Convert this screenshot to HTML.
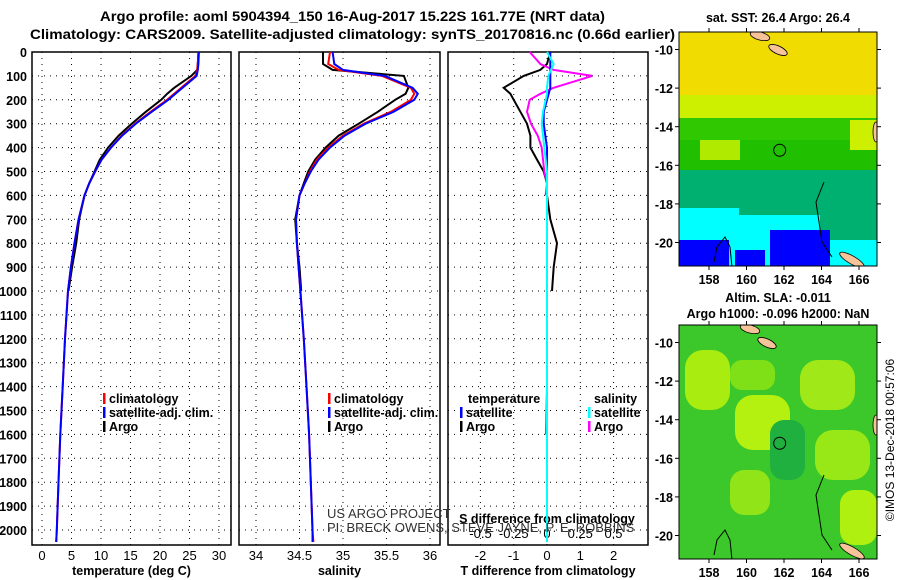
<!DOCTYPE html>
<html><head><meta charset="utf-8"><style>
body{margin:0;background:#fff}
svg{display:block;font-family:"Liberation Sans",sans-serif}
.b{font-weight:bold;font-size:12.5px}
.t{font-weight:bold;font-size:13.5px}
</style></head><body>
<svg id="c" width="900" height="580" viewBox="0 0 900 580">
<defs>
<clipPath id="cm1"><rect x="679" y="32" width="198" height="234"/></clipPath>
<clipPath id="cm2"><rect x="679" y="325" width="198" height="234"/></clipPath>
</defs>
<text class="t" x="100" y="21" textLength="505" lengthAdjust="spacingAndGlyphs">Argo profile: aoml 5904394_150 16-Aug-2017 15.22S 161.77E (NRT data)</text>
<text class="t" x="30" y="39" textLength="645" lengthAdjust="spacingAndGlyphs">Climatology: CARS2009. Satellite-adjusted climatology: synTS_20170816.nc (0.66d earlier)</text>
<g id="p1"></g>
<g id="p2"></g>
<g id="p3"></g>
<g id="m1"></g>
<g id="m2"></g>
<text x="894" y="440" font-size="12" text-anchor="middle" transform="rotate(-90 894 440)">©IMOS 13-Dec-2018 00:57:06</text>
</svg>
<script>
// ---- data ----
const depths=[0,50,75,100,150,175,200,250,300,350,400,450,500,550,600,700,800,900,1000,1200,1400,1600,1800,2000,2050];
const tempClim=[26.5,26.4,26.3,26.0,23.6,22.4,21.2,18.4,15.8,13.5,11.7,10.1,9.0,8.0,7.2,6.2,5.5,4.9,4.4,3.9,3.5,3.1,2.8,2.5,2.4];
const tempSat=[26.6,26.5,26.4,26.2,23.8,22.6,21.4,18.6,15.9,13.6,11.7,10.1,9.0,8.0,7.2,6.2,5.5,4.9,4.4,3.9,3.5,3.1,2.8,2.5,2.4];
const tempArgo=[26.5,26.4,26.3,25.3,22.4,21.2,20.2,17.6,15.2,13.0,11.2,9.8,8.9,8.0,7.2,6.3,5.8,5.1,4.5];
const salClim=[34.85,34.83,34.95,35.45,35.78,35.82,35.78,35.55,35.24,35.0,34.83,34.7,34.62,34.56,34.5,34.46,34.47,34.49,34.51,34.55,34.58,34.61,34.63,34.65,34.66];
const salSat=[34.88,34.9,35.0,35.48,35.8,35.86,35.82,35.58,35.26,35.02,34.85,34.72,34.63,34.56,34.5,34.46,34.47,34.49,34.51,34.55,34.58,34.61,34.63,34.65,34.65];
const salArgo=[34.77,34.77,34.88,35.7,35.75,35.72,35.6,35.4,35.18,34.95,34.8,34.68,34.6,34.55,34.5,34.45,34.47,34.5,34.52];
const tDiffArgo=[0.1,0.0,-0.2,-0.7,-1.3,-1.1,-1.0,-0.8,-0.6,-0.5,-0.5,-0.3,-0.1,0.0,0.0,0.1,0.3,0.2,0.15];
const tDiffSat=[0.1,0.1,0.1,0.1,0.1,0.05,0.0,-0.1,-0.1,-0.05,0.0,0.0,0.0,0.0,0.0,0.0,0.0,0.0,0.0,0.0,0.0,-0.02];
const sDiffArgo=[-0.13,-0.05,0.05,0.34,0.05,-0.05,-0.13,-0.15,-0.12,-0.07,-0.04,-0.03,-0.02,0.0,-0.01];
const sDiffSat=[0.0,0.05,0.03,0.01,0.0,0.0,-0.01,-0.03,-0.04,-0.03,-0.02,-0.01,0.0,0.0,0.0,0.0,0.0,0.0,0.0,0.0,0.0,0.0,0.0,0.0,0.0];
const depthTicks=[0,100,200,300,400,500,600,700,800,900,1000,1100,1200,1300,1400,1500,1600,1700,1800,1900,2000];
const tempTicks=[0,5,10,15,20,25,30];
const salTicks=[34,34.5,35,35.5,36];
const tdTicks=[-2,-1,0,1,2];
const sdTicks=[-0.5,-0.25,0,0.25,0.5];
const latTicks=[-10,-12,-14,-16,-18,-20];
const lonTicks=[158,160,162,164,166];
// ---- scales ----
const NS='http://www.w3.org/2000/svg';
const Y=d=>52+d*0.239;
const xT=v=>42+v*5.9;
const xS=v=>256+(v-34)*87;
const xTD=v=>547+v*33.3;
const xSD=v=>547+v*133;
function mk(p,tag,at,txt){const e=document.createElementNS(NS,tag);for(const k in at)e.setAttribute(k,at[k]);if(txt!==undefined)e.textContent=txt;p.appendChild(e);return e;}
function frame(g,x0,x1,xs,ticks,fmt,label,yLbl){
  const y0=52,y1=545;
  depthTicks.forEach(d=>{const l=mk(g,'line',{x1:x0,x2:x1,y1:Y(d),y2:Y(d),stroke:'#000','stroke-dasharray':'1 5','stroke-width':1});});
  ticks.forEach(v=>{const x=xs(v);const l=mk(g,'line',{x1:x,x2:x,y1:y0,y2:y1,stroke:'#000','stroke-dasharray':'1 5'});
    if(fmt){const t=mk(g,'text',{x:x,y:yLbl,'text-anchor':'middle','font-size':13},fmt(v));}});
  const r=mk(g,'rect',{x:x0,y:y0,width:x1-x0,height:y1-y0,fill:'none',stroke:'#000','stroke-width':1.5});
  if(label){const t=mk(g,'text',{x:(x0+x1)/2,y:575,'text-anchor':'middle',class:'b'},label);}
}
function line(g,vals,xs,col,name,w){
  const pts=vals.map((v,i)=>xs(v).toFixed(1)+','+Y(depths[i]).toFixed(1)).join(' ');
  const l=mk(g,'polyline',{points:pts,fill:'none',stroke:col,'stroke-width':w||2});
  
}
function leg(g,x,y,col,txt,name){
  mk(g,'rect',{x:x,y:y-10,width:2.5,height:11,fill:col});
  const t=mk(g,'text',{x:x+6,y:y,class:'b'},txt);
}
// panel 1
const p1=document.getElementById('p1');
frame(p1,32,231,xT,tempTicks,v=>v,'temperature (deg C)',560);
depthTicks.forEach(d=>{const t=mk(p1,'text',{x:27,y:Y(d)+5,'text-anchor':'end',class:'b'},d);});
line(p1,tempArgo,xT,'#000','temp-argo-line');
line(p1,tempClim,xT,'#f00','temp-climatology-line');
line(p1,tempSat,xT,'#00f','temp-satellite-line');
leg(p1,103,403,'#f00','climatology','legend-climatology');
leg(p1,103,417,'#00f','satellite-adj. clim.','legend-satellite');
leg(p1,103,431,'#000','Argo','legend-argo');
// panel 2
const p2=document.getElementById('p2');
frame(p2,239,440,xS,salTicks,v=>v,'salinity',560);
line(p2,salArgo,xS,'#000','sal-argo-line');
line(p2,salClim,xS,'#f00','sal-climatology-line');
line(p2,salSat,xS,'#00f','sal-satellite-line');
leg(p2,328,403,'#f00','climatology','legend-climatology');
leg(p2,328,417,'#00f','satellite-adj. clim.','legend-satellite');
leg(p2,328,431,'#000','Argo','legend-argo');
// panel 3
const p3=document.getElementById('p3');
frame(p3,448,648,xTD,tdTicks,v=>v,'T difference from climatology',560);
sdTicks.forEach(v=>{const t=mk(p3,'text',{x:xSD(v),y:538,'text-anchor':'middle','font-size':13},v);});
const st=mk(p3,'text',{x:547,y:523,'text-anchor':'middle',class:'b'},'S difference from climatology');
line(p3,tDiffArgo,xTD,'#000','tdiff-argo-line');
line(p3,sDiffArgo,xSD,'#f0f','sdiff-argo-line');
line(p3,tDiffSat,xTD,'#00f','tdiff-satellite-line');
line(p3,sDiffSat,xSD,'#0ff','sdiff-satellite-line');
const tt=mk(p3,'text',{x:468,y:403,class:'b'},'temperature');
leg(p3,460,417,'#00f','satellite','legend-t-satellite');
leg(p3,460,431,'#000','Argo','legend-t-argo');
const sh=mk(p3,'text',{x:594,y:403,class:'b'},'salinity');
leg(p3,588,417,'#0ff','satellite','legend-s-satellite');
leg(p3,588,431,'#f0f','Argo','legend-s-argo');
const c1=mk(document.getElementById('c'),'text',{x:327,y:518,'font-size':13,fill:'#333'},'US ARGO PROJECT');
const c2=mk(document.getElementById('c'),'text',{x:327,y:532,'font-size':13,fill:'#333'},'PI: BRECK OWENS, STEVE JAYNE, P. E. ROBBINS');
// ---- maps ----
function map(id,top,bands,land,title,ttlY){
  const g=document.getElementById(id);const x0=679,x1=877,y1=top+234;
  const lat=v=>top+17.5+(-10-v)*19.3;const lon=v=>709+(v-158)*18.75;
  const inner=mk(g,'g',{'clip-path':'url(#c'+id+')'});
  bands.forEach(b=>mk(inner,'rect',{x:b[0],y:b[1],width:b[2],height:b[3],fill:b[4],rx:b[5]||0}));
  land.forEach(p=>mk(inner,'ellipse',{cx:p[0],cy:p[1]+top,rx:p[2],ry:p[3],fill:'#f7c49a',stroke:'#000','stroke-width':0.8,transform:'rotate('+p[4]+' '+p[0]+' '+(p[1]+top)+')'}));
  mk(inner,'path',{d:`M${x0+35} ${top+230} l3 -15 l8 -10 l5 10 l2 20 M${x0+205-60} ${top+150} l-8 20 l6 40 l10 15`,fill:'none',stroke:'#000','stroke-width':1});
  mk(g,'circle',{cx:lon(161.77),cy:lat(-15.22),r:6,fill:'none',stroke:'#000','stroke-width':1});
  mk(g,'rect',{x:x0,y:top,width:x1-x0,height:234,fill:'none',stroke:'#000'});
  latTicks.forEach(v=>{mk(g,'line',{x1:x0-4,x2:x0,y1:lat(v),y2:lat(v),stroke:'#000'});mk(g,'line',{x1:x1,x2:x1+4,y1:lat(v),y2:lat(v),stroke:'#000'});
    const t=mk(g,'text',{x:673,y:lat(v)+5,'text-anchor':'end',class:'b'},v);});
  lonTicks.forEach(v=>{mk(g,'line',{x1:lon(v),x2:lon(v),y1:y1,y2:y1+4,stroke:'#000'});mk(g,'line',{x1:lon(v),x2:lon(v),y1:top-4,y2:top,stroke:'#000'});
    const t=mk(g,'text',{x:lon(v),y:y1+18,'text-anchor':'middle',class:'b'},v);});
  title.forEach((s,i)=>{const t=mk(g,'text',{x:778,y:ttlY[i],'text-anchor':'middle',class:'b'},s);});
}
map('m1',32,[
 [679,32,198,65,'#f0dc00'],[679,95,198,25,'#ccf000'],[679,118,198,30,'#30c800'],[679,140,198,35,'#20c000'],
 [679,170,198,97,'#00b070'],[679,208,60,59,'#00ffff'],[730,215,90,52,'#00ffff'],[820,240,57,27,'#00ffff'],
 [679,240,50,27,'#0000ff'],[770,230,60,37,'#0000ff'],[735,250,30,17,'#0000ff'],[850,120,27,30,'#ccf000'],[700,140,40,20,'#b0ea00']
],[[760,4,10,4,15],[778,18,10,4,25],[876,100,3,10,0],[852,228,14,4,30]],['sat. SST: 26.4 Argo: 26.4'],[22]);
map('m2',325,[
 [679,325,198,234,'#3cc82a'],[685,350,45,60,'#a8ec10',18],[735,395,55,55,'#b4f010',18],[800,360,55,50,'#a0e818',18],
 [730,360,45,30,'#80e018',12],[815,430,55,50,'#98e818',18],[730,470,40,45,'#90e418',14],[840,490,37,55,'#b0f010',14],[770,420,35,60,'#20b040',14]
],[[750,4,10,4,15],[767,18,10,4,25],[876,100,3,10,0],[852,226,14,4,30]],['Altim. SLA: -0.011','Argo h1000: -0.096 h2000: NaN'],[302,318]);
</script>
</body></html>
